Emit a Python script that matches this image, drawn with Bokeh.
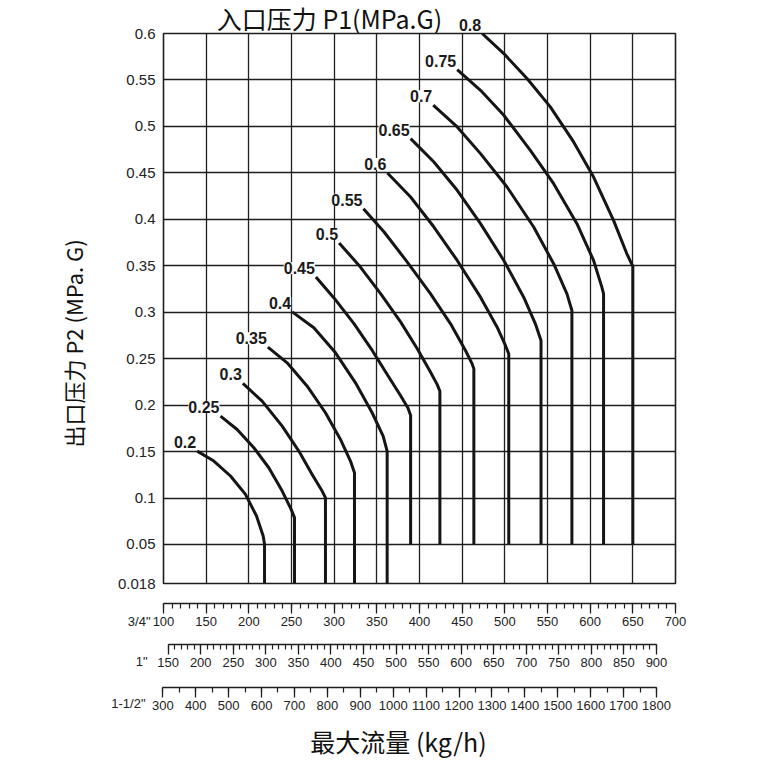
import numpy as np
from bokeh.plotting import figure
from bokeh.models import (Range1d, LinearAxis, FixedTicker, SingleIntervalTicker, Grid,
                          Label, LabelSet, ColumnDataSource, Title)
from bokeh.core.properties import value
from bokeh.embed import file_html
from bokeh.resources import INLINE

# ---------------- data (flow on the 3/4" scale, kg/h ; outlet pressure P2, MPa.G) ----------------
p1_labels = ["0.2", "0.25", "0.3", "0.35", "0.4", "0.45", "0.5", "0.55",
             "0.6", "0.65", "0.7", "0.75", "0.8"]

flow_020 = [139.5, 159.0, 178.5, 196.1, 209.0, 216.8, 218.4, 218.4]
p2_020 = [0.1505, 0.1398, 0.1237, 0.1039, 0.0806, 0.0591, 0.0502, 0.018]

flow_025 = [166.8, 186.3, 205.9, 223.4, 239.1, 249.6, 253.5, 253.5]
p2_025 = [0.1882, 0.1738, 0.1541, 0.1326, 0.1075, 0.0878, 0.0789, 0.018]

flow_030 = [193.0, 215.6, 239.1, 258.6, 274.2, 285.9, 289.8, 289.8]
p2_030 = [0.2233, 0.2043, 0.1774, 0.1505, 0.1254, 0.1075, 0.1004, 0.018]

flow_035 = [222.3, 244.9, 268.4, 289.8, 307.4, 319.1, 323.8, 323.8]
p2_035 = [0.2624, 0.2455, 0.2204, 0.1918, 0.1631, 0.1398, 0.1272, 0.018]

flow_040 = [250.8, 276.2, 301.6, 325.0, 344.5, 357.4, 362.1, 362.1]
p2_040 = [0.3004, 0.2832, 0.2563, 0.2240, 0.1918, 0.1667, 0.1505, 0.018]

flow_045 = [278.6, 300.0, 323.4, 344.8, 363.1, 377.9, 386.5, 389.6, 389.6]
p2_045 = [0.3378, 0.3151, 0.2874, 0.2586, 0.2317, 0.2101, 0.1968, 0.1887, 0.05]

flow_050 = [305.8, 329.2, 354.6, 378.0, 397.4, 413.0, 420.8, 423.9, 423.9]
p2_050 = [0.3744, 0.3504, 0.3198, 0.2893, 0.2606, 0.2354, 0.2221, 0.2149, 0.05]

flow_055 = [334.3, 358.5, 385.7, 413.0, 436.4, 453.9, 461.7, 463.7, 463.7]
p2_055 = [0.4114, 0.3863, 0.3540, 0.3198, 0.2875, 0.2588, 0.2444, 0.2390, 0.05]

flow_060 = [362.4, 389.6, 416.9, 444.2, 471.5, 491.0, 500.7, 504.6, 504.6]
p2_060 = [0.4499, 0.4240, 0.3917, 0.3557, 0.3162, 0.2839, 0.2642, 0.2552, 0.05]

flow_065 = [389.6, 416.9, 444.2, 471.5, 498.8, 522.1, 535.8, 542.4, 542.4]
p2_065 = [0.4869, 0.4617, 0.4312, 0.3953, 0.3557, 0.3162, 0.2875, 0.2695, 0.05]

flow_070 = [416.1, 444.2, 471.5, 502.6, 533.8, 557.2, 572.8, 578.6, 578.6]
p2_070 = [0.5228, 0.4994, 0.4707, 0.4348, 0.3917, 0.3522, 0.3198, 0.3019, 0.05]

flow_075 = [444.2, 471.5, 498.8, 529.9, 557.2, 584.5, 604.0, 613.7, 615.7, 615.7]
p2_075 = [0.5612, 0.5389, 0.5120, 0.4743, 0.4384, 0.3953, 0.3557, 0.3270, 0.3198, 0.05]

flow_080 = [473.4, 498.8, 526.0, 553.3, 580.6, 604.0, 627.4, 643.0, 650.0, 650.0]
p2_080 = [0.6000, 0.5784, 0.5515, 0.5210, 0.4833, 0.4455, 0.3989, 0.3629, 0.3493, 0.05]

y_tick_values = [0.018, 0.05, 0.1, 0.15, 0.2, 0.25, 0.3, 0.35, 0.4, 0.45, 0.5, 0.55, 0.6]
y_tick_labels = ["0.018", "0.05", "0.1", "0.15", "0.2", "0.25", "0.3", "0.35", "0.4",
                 "0.45", "0.5", "0.55", "0.6"]
x_grid_values = [150, 200, 250, 300, 350, 400, 450, 500, 550, 600, 650]

scale_names = ['3/4"', '1"', '1-1/2"']
scale_34_bounds = (100, 700)
scale_1_bounds = (150, 900)
scale_112_bounds = (300, 1800)
# values of the 1" and 1-1/2" scales that sit at the left / right edge of the grid
scale_1_edges = (142.8, 929.2)
scale_112_edges = (302.1, 1857.8)

title_top = "入口压力 P1(MPa.G)"
title_left = "出口压力 P2 (MPa. G)"
title_bottom = "最大流量 (kg/h)"

curves = [(flow_020, p2_020), (flow_025, p2_025), (flow_030, p2_030), (flow_035, p2_035),
          (flow_040, p2_040), (flow_045, p2_045), (flow_050, p2_050), (flow_055, p2_055),
          (flow_060, p2_060), (flow_065, p2_065), (flow_070, p2_070), (flow_075, p2_075),
          (flow_080, p2_080)]

# ---------------- the bottom band (0.018 .. 0.05) is drawn stretched, as on the chart ----------------
Y_BREAK = 0.05
Y_LOW = 0.018
Y_LOW_POS = 0.008
K_LOW = (Y_BREAK - Y_LOW_POS) / (Y_BREAK - Y_LOW)


def ypos(v):
    v = np.asarray(v, dtype=float)
    return np.where(v >= Y_BREAK, v, Y_BREAK - (Y_BREAK - v) * K_LOW)


INK = "#1e1e1e"
LINE_INK = "#151515"
TXT = "#222222"

W = 745
FRAME_L, FRAME_R, FRAME_T, FRAME_B = 163, 675, 33, 583
PX_X = (FRAME_R - FRAME_L) / float(scale_34_bounds[1] - scale_34_bounds[0])
PX_Y = (FRAME_B - FRAME_T) / (0.6 - Y_LOW_POS)

common = dict(output_backend="svg", toolbar_location=None, x_axis_type=None, y_axis_type=None,
              background_fill_color="white")

# ---------------- top strip (title + the label that sits above the grid) ----------------
TOP_H = 40
top_fig = figure(width=W, height=TOP_H, x_range=Range1d(0, W), y_range=Range1d(TOP_H, 0),
                 min_border=0, outline_line_color=None, border_fill_color="white", **common)
top_fig.add_layout(Label(x=329, y=17.5, text=title_top, text_font="Noto Sans CJK SC",
                         text_font_size="25px", text_color="#111111",
                         text_align="center", text_baseline="middle"))
sx = FRAME_L + (flow_080[0] - scale_34_bounds[0]) * PX_X
sy = FRAME_T + (0.6 - p2_080[0]) * PX_Y
top_fig.add_layout(Label(x=sx, y=sy, x_offset=-1, y_offset=9, text=p1_labels[-1],
                         text_font="Liberation Sans", text_font_style="bold",
                         text_font_size="16px", text_color="#1a1a1a",
                         text_align="right", text_baseline="middle"))

# ---------------- main chart (its transparent top border overlaps the strip above) ----------------
MAIN_TOP = 20
MAIN_BOTTOM_PAD = 12
MAIN_H = (FRAME_T - MAIN_TOP) + (FRAME_B - FRAME_T) + MAIN_BOTTOM_PAD
p = figure(width=W, height=MAIN_H,
           x_range=Range1d(scale_34_bounds[0], scale_34_bounds[1]),
           y_range=Range1d(Y_LOW_POS, 0.6),
           min_border_left=FRAME_L, min_border_right=W - FRAME_R,
           min_border_top=FRAME_T - MAIN_TOP, min_border_bottom=MAIN_BOTTOM_PAD,
           border_fill_color=None, styles={"margin-top": "%dpx" % (MAIN_TOP - TOP_H)},
           **common)
p.outline_line_color = INK
p.outline_line_width = 1.6

ytick_pos = [float(v) for v in ypos(y_tick_values)]
p.add_layout(Grid(dimension=0, ticker=FixedTicker(ticks=x_grid_values),
                  grid_line_color=INK, grid_line_width=1.3))
p.add_layout(Grid(dimension=1, ticker=FixedTicker(ticks=ytick_pos),
                  grid_line_color=INK, grid_line_width=1.3))

yax = LinearAxis(ticker=FixedTicker(ticks=ytick_pos),
                 major_label_overrides={t: s for t, s in zip(ytick_pos, y_tick_labels)})
yax.axis_line_color = None
yax.major_tick_line_color = None
yax.minor_tick_line_color = None
yax.major_tick_out = 0
yax.major_tick_in = 0
yax.major_label_standoff = 8
yax.major_label_text_font = "Liberation Sans"
yax.major_label_text_font_size = "15px"
yax.major_label_text_color = TXT
p.add_layout(yax, "left")
p.add_layout(Title(text=title_left, align="left", offset=FRAME_B - 447, standoff=52,
                   text_font="Noto Sans CJK SC", text_font_size="22px",
                   text_font_style="normal", text_color="#111111"), "left")

for fx, fy in curves:
    p.line(fx, list(ypos(fy)), line_color=LINE_INK, line_width=3, line_join="round")

src = ColumnDataSource(dict(x=[c[0][0] for c in curves[:-1]],
                            y=[float(ypos(c[1][0])) for c in curves[:-1]],
                            t=p1_labels[:-1]))
p.add_layout(LabelSet(x="x", y="y", text="t", source=src, x_offset=-1, y_offset=9,
                      text_align="right", text_baseline="middle",
                      text_font=value("Liberation Sans"), text_font_style="bold",
                      text_font_size="16px", text_color="#1a1a1a",
                      background_fill_color="white"))

# ---------------- the three flow scales (own page block, frame = whole block) ----------------
BOT_TOP = MAIN_TOP + MAIN_H
BOT_H = 760 - BOT_TOP


def full_range(lo, hi):
    k = (FRAME_R - FRAME_L) / float(hi - lo)
    return Range1d(lo - FRAME_L / k, lo + (W - FRAME_L) / k)


sc = figure(width=W, height=BOT_H,
            x_range=full_range(*scale_34_bounds),
            y_range=Range1d(760, BOT_TOP),
            min_border=0, outline_line_color=None, border_fill_color="white", **common)
sc.extra_x_ranges = {"one": full_range(*scale_1_edges), "onehalf": full_range(*scale_112_edges)}


def scale_axis(range_name, interval, minor, bounds, where):
    kw = {} if range_name is None else {"x_range_name": range_name}
    a = LinearAxis(ticker=SingleIntervalTicker(interval=interval, num_minor_ticks=minor),
                   bounds=bounds, fixed_location=where, **kw)
    a.axis_line_color = INK
    a.axis_line_width = 1.3
    a.major_tick_line_color = INK
    a.major_tick_line_width = 1.3
    a.minor_tick_line_color = INK
    a.minor_tick_line_width = 1.2
    a.major_tick_out = 10
    a.major_tick_in = 0
    a.minor_tick_out = 5
    a.minor_tick_in = 0
    a.major_label_standoff = 3
    a.major_label_text_font = "Liberation Sans"
    a.major_label_text_font_size = "13px"
    a.major_label_text_color = TXT
    return a


sc.add_layout(scale_axis(None, 50, 5, scale_34_bounds, 603), "below")
sc.add_layout(scale_axis("one", 50, 5, scale_1_bounds, 644), "below")
sc.add_layout(scale_axis("onehalf", 100, 2, scale_112_bounds, 687), "below")


def dx(px):
    return scale_34_bounds[0] + (px - FRAME_L) / PX_X


for name, (nx, ny) in zip(scale_names, [(150, 621), (147, 661), (145, 703)]):
    sc.add_layout(Label(x=dx(nx), y=ny, text=name, text_font="Liberation Sans",
                        text_font_size="13px", text_color=TXT,
                        text_align="right", text_baseline="middle"))

sc.add_layout(Label(x=dx(398), y=740, text=title_bottom,
                    text_font="Noto Sans CJK SC", text_font_size="25px", text_color="#111111",
                    text_align="center", text_baseline="middle"))

open("out.html", "w").write(file_html([top_fig, p, sc], INLINE))
